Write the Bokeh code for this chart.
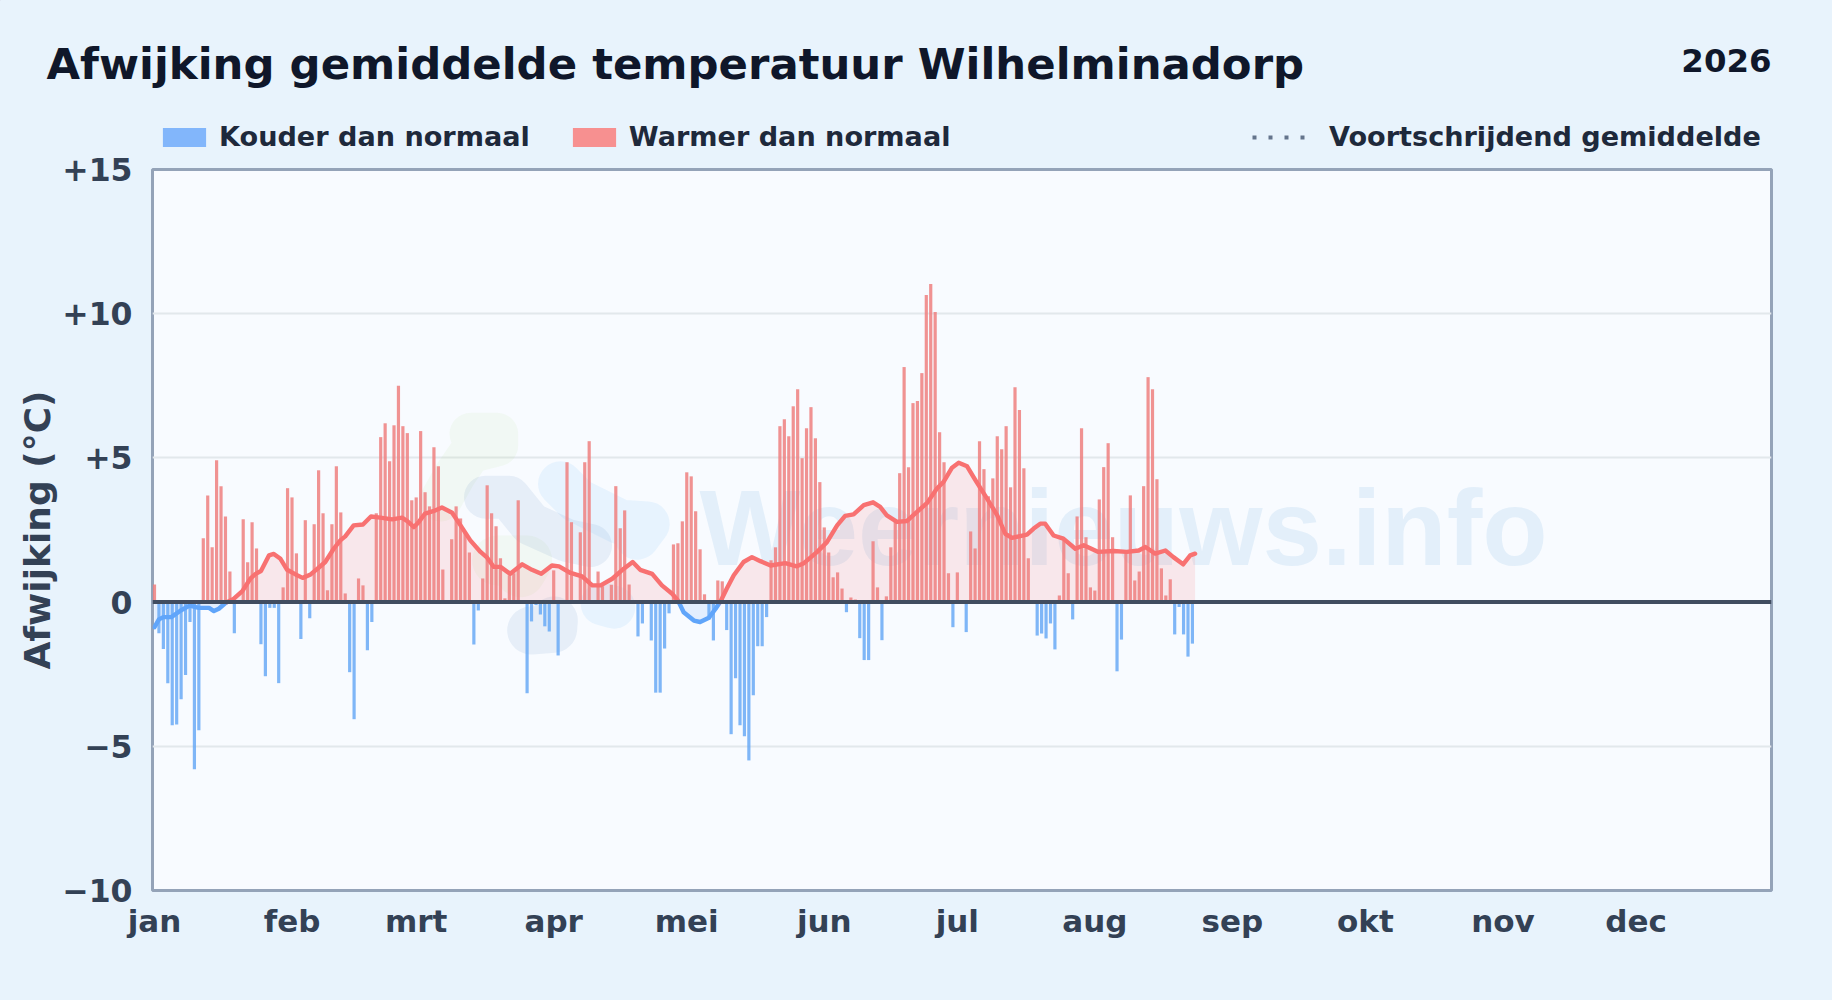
from bokeh.plotting import figure
from bokeh.models import Range1d, FixedTicker, Legend, LegendItem, Span
from bokeh.core.properties import value
from bokeh.embed import file_html
from bokeh.resources import INLINE

TITLE = "Afwijking gemiddelde temperatuur Wilhelminadorp"
YEAR = "2026"
MONTHS = ["jan", "feb", "mrt", "apr", "mei", "jun", "jul", "aug", "sep", "okt", "nov", "dec"]
MONTH_START = [0, 31, 59, 90, 120, 151, 181, 212, 243, 273, 304, 334]
Y_TICKS = [-10, -5, 0, 5, 10, 15]
Y_LABELS = ["\u221210", "\u22125", "0", "+5", "+10", "+15"]

# daily deviation from normal (deg C), day 0 = 1 Jan
DEVIATION = [
    0.61, -1.08, -1.63, -2.81, -4.27, -4.24, -3.37, -2.53, -0.69, -5.80,
    -4.44, 2.21, 3.70, 1.90, 4.92, 4.02, 2.97, 1.06, -1.08, 0.00,
    2.87, 1.38, 2.77, 1.86, -1.46, -2.57, -0.20, -0.20, -2.81, 0.51,
    3.95, 3.63, 1.69, -1.28, 2.84, -0.56, 2.70, 4.57, 3.08, 0.41,
    2.70, 4.71, 3.11, 0.30, -2.43, -4.06, 0.82, 0.58, -1.67, -0.69,
    3.08, 5.72, 6.20, 4.88, 6.13, 7.50, 6.10, 5.86, 3.53, 3.63,
    5.93, 3.81, 3.32, 5.37, 4.71, 1.13, 0.00, 2.18, 3.32, 2.90,
    2.40, 1.72, -1.47, -0.29, 0.82, 4.05, 3.08, 2.63, 1.52, 0.13,
    0.93, 1.00, 3.53, 0.00, -3.16, -0.67, -0.10, -0.43, -0.84, -1.02,
    1.10, -1.85, 0.00, 4.85, 2.77, 0.00, 2.42, 4.85, 5.58, 0.00,
    1.06, 0.55, 0.00, 0.60, 4.02, 2.56, 3.18, 0.61, 0.00, -1.19,
    -0.74, 0.00, -1.33, -3.14, -3.14, -1.61, -0.39, 2.00, 2.04, 2.80,
    4.50, 4.36, 3.15, 1.83, 0.27, -0.60, -1.33, 0.75, 0.72, -0.97,
    -4.58, -2.64, -4.27, -4.65, -5.49, -3.23, -1.53, -1.53, -0.52, 1.45,
    1.90, 6.10, 6.34, 5.75, 6.79, 7.38, 4.99, 6.03, 6.76, 5.68,
    4.16, 2.59, 1.72, 0.86, 1.03, 0.47, -0.35, 0.16, 0.09, -1.25,
    -2.01, -2.01, 2.11, 0.51, -1.32, 0.20, 1.90, 2.78, 4.47, 8.15,
    4.68, 6.90, 6.97, 7.94, 10.65, 11.03, 10.06, 5.89, 4.85, 1.00,
    -0.87, 1.03, 0.00, -1.04, 2.45, 1.86, 5.58, 4.61, 3.67, 4.29,
    5.75, 5.30, 6.10, 3.98, 7.45, 6.66, 4.64, 1.52, 0.00, -1.16,
    -1.09, -1.26, -0.74, -1.64, 0.23, 2.14, 1.00, -0.60, 2.97, 6.03,
    2.25, 0.51, 0.40, 3.56, 4.68, 5.51, 2.25, -2.40, -1.30, 1.72,
    3.70, 0.75, 1.06, 4.02, 7.80, 7.38, 4.26, 1.17, 0.23, 0.79,
    -1.12, -0.17, -1.12, -1.89, -1.44,
]

# moving average
MA_DAY = [
    0, 1, 2, 3.8, 5.9, 7.9, 10, 12.3, 13.4, 14.5, 16, 17.9, 19.8, 21.6, 22.8, 24, 25.8, 26.9,
    28.4, 29.9, 31.8, 33.4, 35.2, 37, 38.5, 40.4, 41.9, 43, 44.9, 47, 48.8, 50.9, 53.6, 55.8,
    57, 58.5, 59.6, 61, 63, 64.8, 67.1, 69, 71.2, 73.5, 75, 76.5, 78, 80.2, 82.9, 85.1, 87.2,
    89.6, 91.2, 93.8, 96.4, 98.7, 100.6, 103.2, 105.8, 107.8, 109.5, 112.2, 114.4, 116.7, 118,
    119.3, 121.6, 123, 125, 126.5, 127.6, 129, 130.6, 132.8, 134.7, 136.6, 138.9, 142.2, 144.8,
    146.4, 149.4, 151.6, 153.9, 155.7, 157.6, 159.9, 162, 163.6, 165.1, 167.4, 169.6, 171.9,
    174.2, 176.4, 177.9, 179.8, 181.3, 183.2, 185, 187.7, 190, 191.8, 193.3, 196.7, 198.2,
    199.7, 200.8, 202.7, 204.9, 207.6, 209.5, 212.8, 216.2, 219.2, 221.9, 223.4, 225.6, 227.9,
    229.7, 231.9, 233.5, 234.6,
]
MA_VALUE = [
    -0.87, -0.60, -0.52, -0.52, -0.29, -0.12, -0.20, -0.20, -0.31, -0.23, -0.03, 0.12, 0.38, 0.81, 0.98, 1.08, 1.62, 1.67,
    1.50, 1.12, 0.96, 0.84, 0.96, 1.19, 1.39, 1.85, 2.14, 2.28, 2.66, 2.69, 2.97, 2.93, 2.87, 2.93,
    2.81, 2.60, 2.78, 3.07, 3.16, 3.28, 3.10, 2.66, 2.14, 1.74, 1.54, 1.22, 1.22, 0.98, 1.31, 1.12, 0.98,
    1.27, 1.24, 1.01, 0.89, 0.58, 0.58, 0.81, 1.16, 1.39, 1.12, 0.98, 0.58, 0.29, 0.06,
    -0.35, -0.64, -0.69, -0.54, -0.23, 0.02, 0.46, 0.93, 1.39, 1.56, 1.42, 1.27, 1.35, 1.24,
    1.35, 1.74, 2.08, 2.66, 2.99, 3.04, 3.36, 3.46, 3.30, 3.01, 2.78, 2.81, 3.13,
    3.44, 3.94, 4.17, 4.66, 4.83, 4.71, 4.25, 3.59, 3.01, 2.37, 2.23, 2.34, 2.55,
    2.72, 2.72, 2.31, 2.20, 1.85, 1.97, 1.74, 1.77, 1.74, 1.79, 1.91, 1.68, 1.79,
    1.56, 1.31, 1.62, 1.68,
]

WATERMARK = "Weernieuws.info"
LEG_COLD = "Kouder dan normaal"
LEG_WARM = "Warmer dan normaal"
LEG_MA = "Voortschrijdend gemiddelde"

L, R, T, B = 152, 1771, 169, 890          # frame edges in page pixels
PAGE_W, PAGE_H = 1832, 1000
HEAD_H = 160
OVERLAP = 30                              # chart canvas slides up under the header strip
BG = "#e8f3fc"
FONT = "DejaVu Sans"
PX_PER_DAY = (R - L) / 365
X0 = -0.45
CHART_TOP = HEAD_H - OVERLAP

p = figure(width=PAGE_W, height=PAGE_H - CHART_TOP, output_backend="svg", toolbar_location=None,
           x_range=Range1d(X0, X0 + 365), y_range=Range1d(-10, 15),
           min_border_left=L, min_border_right=PAGE_W - R,
           min_border_top=T - CHART_TOP, min_border_bottom=PAGE_H - B,
           margin=(-OVERLAP, 0, 0, 0))
p.background_fill_color = "#f8fbff"
p.border_fill_color = None
p.outline_line_color = "#94a3b8"
p.outline_line_width = 3

p.xgrid.visible = False
p.ygrid.grid_line_color = "#e2e8ec"
p.ygrid.grid_line_width = 2
p.ygrid.ticker = FixedTicker(ticks=[-5, 5, 10])

p.xaxis.ticker = FixedTicker(ticks=MONTH_START)
p.xaxis.major_label_overrides = dict(zip(MONTH_START, MONTHS))
p.yaxis.ticker = FixedTicker(ticks=Y_TICKS)
p.yaxis.major_label_overrides = dict(zip(Y_TICKS, Y_LABELS))
for ax in (p.xaxis[0], p.yaxis[0]):
    ax.axis_line_color = None
    ax.major_tick_line_color = None
    ax.minor_tick_line_color = None
    ax.major_tick_in = 0
    ax.major_tick_out = 0
    ax.major_label_text_font = FONT
    ax.major_label_text_font_style = "bold"
    ax.major_label_text_color = "#334155"
p.xaxis.major_label_text_font_size = "31px"
p.yaxis.major_label_text_font_size = "31.5px"
p.xaxis.major_label_standoff = 12
p.yaxis.major_label_standoff = 20
p.yaxis.axis_label = "Afwijking (\u00b0C)"
p.yaxis.axis_label_text_font = FONT
p.yaxis.axis_label_text_font_style = "bold"
p.yaxis.axis_label_text_font_size = "36px"
p.yaxis.axis_label_text_color = "#334155"
p.yaxis.axis_label_standoff = 1


def dx(px):
    return X0 + (px - L) / PX_PER_DAY


def dy(py):
    return 15 - (py - T) * 25 / (B - T)


# faint logo behind the data
ZX, ZY = 420, 390
LOGO = [
    ("#a3d977", 0.08, 42, [(150, 130), (230, 130), (230, 165), (150, 185), (105, 250), (60, 330)]),
    ("#a3d977", 0.08, 50, [(230, 510), (320, 510), (300, 545)]),
    ("#3b6fb5", 0.09, 43, [(195, 320), (265, 320), (330, 400), (440, 450), (510, 465)]),
    ("#60b5fa", 0.11, 45, [(420, 280), (470, 330), (600, 395), (680, 400), (650, 440)]),
    ("#3b6fb5", 0.09, 48, [(332, 720), (398, 715), (400, 690)]),
    ("#60b5fa", 0.11, 43, [(545, 640), (580, 650)]),
]
for col, alpha, width, pts in LOGO:
    p.line([dx(ZX + a / 3) for a, b in pts], [dy(ZY + b / 3) for a, b in pts],
           line_color=col, line_alpha=alpha, line_width=width,
           line_cap="round", line_join="round")

p.text(x=[dx(699)], y=[dy(565)], text=[WATERMARK], text_font=value("Liberation Sans"),
       text_font_style="bold", text_font_size="107px", text_color="#2f86d0", text_alpha=0.1,
       text_baseline="bottom", text_align="left", y_offset=[22])

# split the moving average at its zero crossings
segments = []
seg_x, seg_y = [MA_DAY[0]], [MA_VALUE[0]]
for i in range(1, len(MA_DAY)):
    x0, y0, x1, y1 = MA_DAY[i - 1], MA_VALUE[i - 1], MA_DAY[i], MA_VALUE[i]
    if y0 * y1 < 0:
        xc = x0 + (x1 - x0) * (-y0) / (y1 - y0)
        seg_x.append(xc)
        seg_y.append(0)
        segments.append((seg_x, seg_y))
        seg_x, seg_y = [xc], [0]
    seg_x.append(x1)
    seg_y.append(y1)
segments.append((seg_x, seg_y))

RED, BLUE = "#f87171", "#60a5fa"
for sx, sy in segments:
    col = RED if sum(sy) > 0 else BLUE
    p.varea(x=sx, y1=[0] * len(sx), y2=sy, fill_color=col, fill_alpha=0.14)

days = list(range(len(DEVIATION)))
warm_x = [d for d, v in zip(days, DEVIATION) if v > 0]
warm_y = [v for v in DEVIATION if v > 0]
cold_x = [d for d, v in zip(days, DEVIATION) if v < 0]
cold_y = [v for v in DEVIATION if v < 0]
WARM_BAR, COLD_BAR = "#ef7f7f", "#60a5f5"
p.vbar(x=warm_x, top=warm_y, bottom=0, width=0.72, fill_color=WARM_BAR, fill_alpha=0.85, line_color=None)
p.vbar(x=cold_x, top=0, bottom=cold_y, width=0.72, fill_color=COLD_BAR, fill_alpha=0.8, line_color=None)

for sx, sy in segments:
    col = RED if sum(sy) > 0 else BLUE
    p.line(sx, sy, line_color=col, line_width=4.4, line_join="round", line_cap="round")

p.add_layout(Span(location=0, dimension="width", line_color="#414d60", line_width=4))

# header: title, year and legend. Its frame fills the strip, so nothing is clipped.
h = figure(width=PAGE_W, height=HEAD_H, output_backend="svg", toolbar_location=None,
           x_range=Range1d(0, PAGE_W), y_range=Range1d(HEAD_H, 0),
           min_border=0, min_border_left=0, min_border_right=0, min_border_top=0, min_border_bottom=0,
           x_axis_location=None, y_axis_location=None,
           outline_line_color=None, background_fill_color=BG, border_fill_color=BG)
h.xgrid.visible = False
h.ygrid.visible = False
h.text(x=[46], y=[63], text=[TITLE], text_font=value(FONT), text_font_style="bold",
       text_font_size="43.4px", text_color="#0f172a", text_baseline="alphabetic", text_align="left")
h.text(x=[R], y=[60], text=[YEAR], text_font=value(FONT), text_font_style="bold",
       text_font_size="32.4px", text_color="#0f172a", text_baseline="alphabetic", text_align="right")

# off-view samples: they exist only to give the legend its keys
r_cold = h.vbar(x=[-100], top=[-100], bottom=[-110], width=1, fill_color="#82b6fb", line_color=None)
r_warm = h.vbar(x=[-100], top=[-100], bottom=[-110], width=1, fill_color="#f79090", line_color=None)
r_ma = h.line([-100, -90], [-100, -100], line_color="#64748b", line_width=4, line_dash="4 12")

for items, loc, spacing, glyph_w, glyph_h, standoff in (
    ([LegendItem(label=LEG_COLD, renderers=[r_cold]), LegendItem(label=LEG_WARM, renderers=[r_warm])], (157, 8), 37, 54, 24, 8),
    ([LegendItem(label=LEG_MA, renderers=[r_ma])], (1252, 8), 0, 56, 24, 21),
):
    leg = Legend(items=items, orientation="horizontal", location=loc, spacing=spacing,
                 glyph_width=glyph_w, glyph_height=glyph_h, label_standoff=standoff, padding=0, margin=0,
                 background_fill_alpha=0, border_line_color=None,
                 label_text_font=FONT, label_text_font_style="bold",
                 label_text_font_size="27.1px", label_text_color="#1e293b")
    h.add_layout(leg, "center")

html = file_html([h, p], INLINE)
html = html.replace("<head>", "<head><style>html,body{background:%s;overflow:hidden}</style>" % BG, 1)
open("out.html", "w").write(html)
